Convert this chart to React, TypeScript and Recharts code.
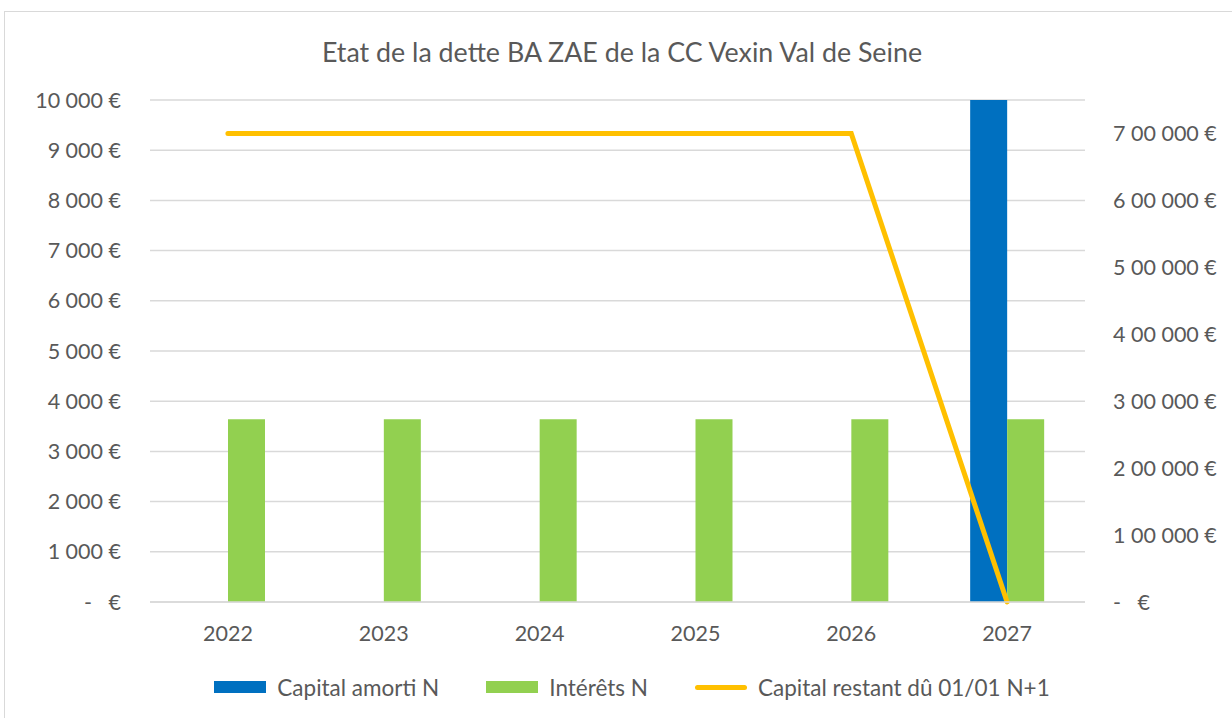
import React from 'react';
import { ComposedChart, Bar, Line, XAxis, YAxis, CartesianGrid, Legend } from 'recharts';

const years = ['2022', '2023', '2024', '2025', '2026', '2027'];
// 2027 repayment runs far above the left axis maximum and is clipped, as in the original
const capitalAmorti = [0, 0, 0, 0, 0, 700000];
const interets = [3640, 3640, 3640, 3640, 3640, 3640];
const capitalRestant = [700000, 700000, 700000, 700000, 700000, 0];

const leftTicks = [0, 1000, 2000, 3000, 4000, 5000, 6000, 7000, 8000, 9000, 10000];
const rightTicks = [0, 100000, 200000, 300000, 400000, 500000, 600000, 700000];
const edgeTicks = [0, 1, 2, 3, 4, 5, 6];

const seriesNames = ['Capital amorti N', 'Intérêts N', 'Capital restant dû 01/01 N+1'];

const data = years.map((year, i) => ({
  year,
  capitalAmorti: capitalAmorti[i],
  interets: interets[i],
  capitalRestant: capitalRestant[i],
}));

const FONT = 'Lato, "Open Sans", sans-serif';
const TEXT = '#595959';
const GRID = '#d9d9d9';

const group = (n: number, indian: boolean) => {
  const s = String(Math.round(n));
  if (!indian) return s.replace(/\B(?=(\d{3})+(?!\d))/g, ' ');
  const last = s.slice(-3);
  let rest = s.slice(0, -3);
  const parts: string[] = [];
  while (rest.length > 2) {
    parts.unshift(rest.slice(-2));
    rest = rest.slice(0, -2);
  }
  if (rest) parts.unshift(rest);
  return [...parts, last].join(' ');
};

const euro = (indian: boolean) => (v: number) =>
  v === 0 ? '-\u00a0\u00a0\u00a0€' : `${group(v, indian)} €`;

const tickStyle = { fill: TEXT, fontSize: 21.5, fontFamily: FONT };

const renderLegend = (props: any) => {
  const items = [...(props.payload ?? [])].sort(
    (a: any, b: any) => seriesNames.indexOf(a.value) - seriesNames.indexOf(b.value)
  );
  return (
    <div
      style={{
        display: 'flex',
        justifyContent: 'center',
        alignItems: 'center',
        height: 30,
        gap: 47,
        fontFamily: FONT,
        fontSize: 22.5,
        color: TEXT,
        paddingLeft: 32,
      }}
    >
      {items.map((entry: any) => (
        <div key={entry.value} style={{ display: 'flex', alignItems: 'center' }}>
          {entry.type === 'plainline' ? (
            <div style={{ width: 52, height: 5, background: entry.color, borderRadius: 3 }} />
          ) : (
            <div style={{ width: 52, height: 12, background: entry.color }} />
          )}
          <span style={{ marginLeft: 11 }}>{entry.value}</span>
        </div>
      ))}
    </div>
  );
};

export default function App() {
  return (
    <div style={{ position: 'absolute', left: 0, top: 0, width: 1232, height: 718, overflow: 'hidden', background: '#fff' }}>
      <div style={{ position: 'absolute', left: 4, top: 11, width: 1300, height: 800, border: `1px solid ${GRID}` }} />
      <div
        style={{
          position: 'absolute',
          left: 0,
          top: 35,
          width: 1244,
          height: 34,
          lineHeight: '34px',
          textAlign: 'center',
          fontFamily: FONT,
          fontSize: 26.8,
          color: TEXT,
        }}
      >
        Etat de la dette BA ZAE de la CC Vexin Val de Seine
      </div>
      <div style={{ position: 'absolute', left: 0, top: 0 }}>
        <ComposedChart
          width={1232}
          height={718}
          data={data}
          margin={{ top: 100, right: 0, left: 0, bottom: 16 }}
          barGap={0}
        >
          <CartesianGrid xAxisId="cat" yAxisId="left" vertical={false} stroke={GRID} strokeWidth={1.5} />
          <XAxis
            xAxisId="cat"
            dataKey="year"
            axisLine={false}
            tickLine={false}
            tickSize={0}
            tickMargin={18}
            height={64}
            tick={tickStyle}
            interval={0}
          />
          <XAxis
            xAxisId="aEdge"
            type="number"
            domain={[0, 6]}
            ticks={edgeTicks}
            allowDataOverflow
            tick={false}
            tickSize={6}
            tickLine={{ stroke: GRID, strokeWidth: 1.5 }}
            axisLine={{ stroke: GRID, strokeWidth: 1.5 }}
            height={6}
          />
          <YAxis
            yAxisId="left"
            domain={[0, 10000]}
            ticks={leftTicks}
            allowDataOverflow
            interval={0}
            width={150}
            axisLine={false}
            tickLine={false}
            tickSize={0}
            tickMargin={29}
            tickFormatter={euro(false)}
            tick={tickStyle}
          />
          <YAxis
            yAxisId="right"
            orientation="right"
            domain={[0, 750000]}
            ticks={rightTicks}
            interval={0}
            width={147}
            axisLine={false}
            tickLine={false}
            tickSize={0}
            tickMargin={28}
            tickFormatter={euro(true)}
            tick={{ ...tickStyle, textAnchor: 'start' }}
          />
          <Bar
            xAxisId="cat"
            yAxisId="left"
            dataKey="capitalAmorti"
            name="Capital amorti N"
            fill="#0070C0"
            barSize={37}
            legendType="rect"
            isAnimationActive={false}
          />
          <Bar
            xAxisId="cat"
            yAxisId="left"
            dataKey="interets"
            name="Intérêts N"
            fill="#92D050"
            barSize={37}
            legendType="rect"
            isAnimationActive={false}
          />
          <Line
            xAxisId="cat"
            yAxisId="right"
            type="linear"
            dataKey="capitalRestant"
            name="Capital restant dû 01/01 N+1"
            stroke="#FFC000"
            strokeWidth={5}
            strokeLinecap="round"
            dot={false}
            activeDot={false}
            legendType="plainline"
            isAnimationActive={false}
          />
          <Legend verticalAlign="bottom" height={30} content={renderLegend} />
        </ComposedChart>
      </div>
    </div>
  );
}
